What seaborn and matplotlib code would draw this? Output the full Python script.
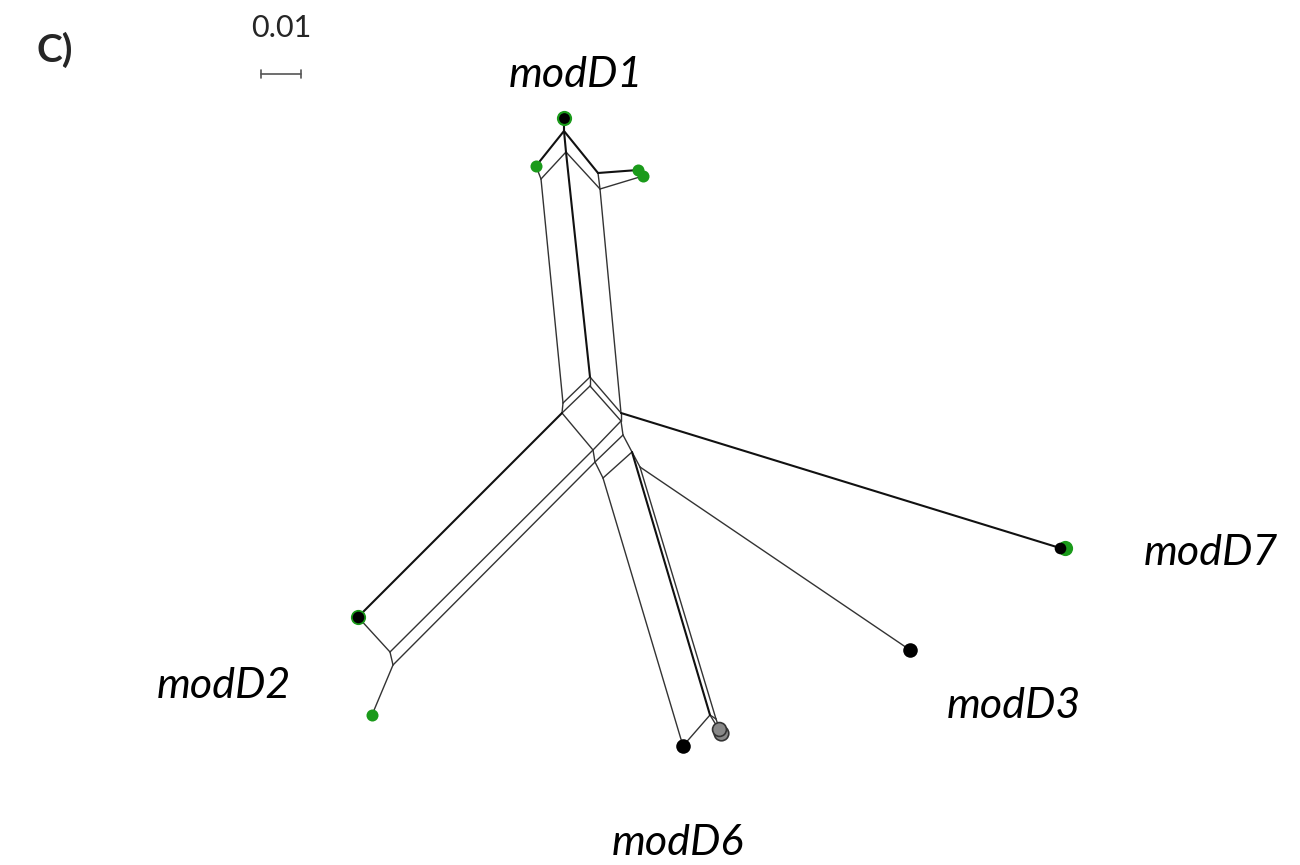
import matplotlib
matplotlib.use("Agg")
import matplotlib.pyplot as plt
import seaborn as sns
import pandas as pd

# ---- network nodes (layout coordinates of the split network) ----
node_names = ["T0", "A1", "A2", "B1", "B2", "C1", "C2", "D1", "D2",
              "Nt", "Nt2", "NL", "NL2", "NR", "NR2",
              "NC", "NC2", "NE", "NR3", "NF", "NG",
              "M1", "M2", "D2a", "D2b",
              "K1", "K2", "K3", "K4", "D7", "D3"]
node_x = [564, 564, 566, 536, 541, 598, 600, 638, 643,
          590, 590, 563, 562, 621, 621,
          593, 595, 603, 623, 632, 640,
          390, 393, 358, 372,
          683, 710, 716, 721, 1060, 910]
node_y = [118, 131, 152, 166, 179, 173, 189, 170, 176,
          377, 386, 403, 413, 413, 421,
          450, 462, 478, 435, 452, 467,
          652, 665, 617, 715,
          746, 715, 719, 733, 548, 650]

# ---- edges (pairs of node names) ----
edges_dark = [("T0", "A1"), ("A1", "B1"), ("A1", "C1"), ("C1", "D1"),
              ("A2", "Nt"), ("NR", "D7"), ("NL2", "D2a"),
              ("NF", "K2"), ("A1", "A2")]
edges_light = [("A2", "B2"), ("B1", "B2"), ("A2", "C2"), ("C1", "C2"), ("C2", "D2"),
               ("B2", "NL"), ("C2", "NR"),
               ("Nt", "NL"), ("Nt2", "NL2"), ("Nt", "Nt2"), ("NL", "NL2"),
               ("Nt", "NR"), ("Nt2", "NR2"), ("NR", "NR2"),
               ("NL2", "NC"), ("NR2", "NC"), ("NR2", "NR3"), ("NR3", "NC2"),
               ("NC", "NC2"), ("NC2", "NE"), ("NR3", "NF"), ("NF", "NE"), ("NF", "NG"),
               ("NC", "M1"), ("NC2", "M2"), ("D2a", "M1"), ("M1", "M2"), ("M2", "D2b"),
               ("NE", "K1"), ("K1", "K2"), ("NG", "K3"), ("K2", "K3"), ("K2", "K4"),
               ("K3", "K4"), ("NG", "D3")]

# ---- leaves ----
tip_nodes = ["T0", "B1", "D1", "D2", "D2a", "D2b", "D7", "D3", "K1", "K4"]
tip_fill = ["#1a9a1a", "#1a9a1a", "#1a9a1a", "#1a9a1a", "#1a9a1a", "#1a9a1a",
            "#1a9a1a", "black", "black", "#888888"]
tip_inner = ["black", None, None, None, "black", None, "black", None, None, None]

cluster_labels = ["modD1", "modD7", "modD2", "modD3", "modD6"]
panel_label = "C)"
scale_text = "0.01"

sns.set_theme(style="white")
plt.rcParams["font.family"] = ["Lato", "DejaVu Sans"]

pos = {n: (x, y) for n, x, y in zip(node_names, node_x, node_y)}

def seg_frame(edges):
    rows = []
    for i, (a, b) in enumerate(edges):
        for n in (a, b):
            rows.append({"edge": i, "x": pos[n][0], "y": pos[n][1]})
    return pd.DataFrame(rows)

fig = plt.figure(figsize=(13, 8.65), dpi=100)
ax = fig.add_axes([0, 0, 1, 1])

sns.lineplot(data=seg_frame(edges_light), x="x", y="y", units="edge",
             estimator=None, sort=False, color="#333333", lw=1.0, ax=ax,
             legend=False)
sns.lineplot(data=seg_frame(edges_dark), x="x", y="y", units="edge",
             estimator=None, sort=False, color="#111111", lw=1.5, ax=ax,
             legend=False)

# green shadow behind black-topped tips
shift = pd.DataFrame({"x": [pos[n][0] + (5 if n == "D7" else 0) for n, c in zip(tip_nodes, tip_inner) if c],
                      "y": [pos[n][1] for n, c in zip(tip_nodes, tip_inner) if c]})
sns.scatterplot(data=shift, x="x", y="y", color="#1a9a1a", s=120, linewidth=0,
                ax=ax, legend=False, zorder=3)
for n, c, inner in zip(tip_nodes, tip_fill, tip_inner):
    x, y = pos[n]
    if inner:
        sz = 70 if n != "T0" else 60
        ax.scatter([x], [y], s=sz, color=inner, linewidths=0, zorder=4)
    else:
        ec = "#333333" if c == "#888888" else c
        sz = 110 if c in ("black", "#888888") else 75
        ax.scatter([x], [y], s=sz, color=c, edgecolors=ec,
                   linewidths=1.2 if c == "#888888" else 0, zorder=4)
ax.scatter([pos["K4"][0] - 2], [pos["K4"][1] - 4], s=100, color="#888888",
           edgecolors="#333333", linewidths=1.2, zorder=4)

# labels
label_pos = [(576, 75), (1211, 553), (224, 686), (1014, 706), (678, 843)]
for t, (x, y) in zip(cluster_labels, label_pos):
    ax.text(x, y, t, fontsize=31, style="italic", ha="center", va="center", color="black")
ax.text(55, 50, panel_label, fontsize=28, weight="bold", ha="center", va="center")
ax.text(281, 28, scale_text, fontsize=22, ha="center", va="center")
ax.plot([261, 301], [74, 74], color="#555555", lw=1.2)
ax.plot([261, 261], [70, 78], color="#555555", lw=1.2)
ax.plot([301, 301], [70, 78], color="#555555", lw=1.2)

ax.set_xlim(0, 1300)
ax.set_ylim(865, 0)
ax.axis("off")
fig.savefig("out.png", dpi=100, facecolor="white")
